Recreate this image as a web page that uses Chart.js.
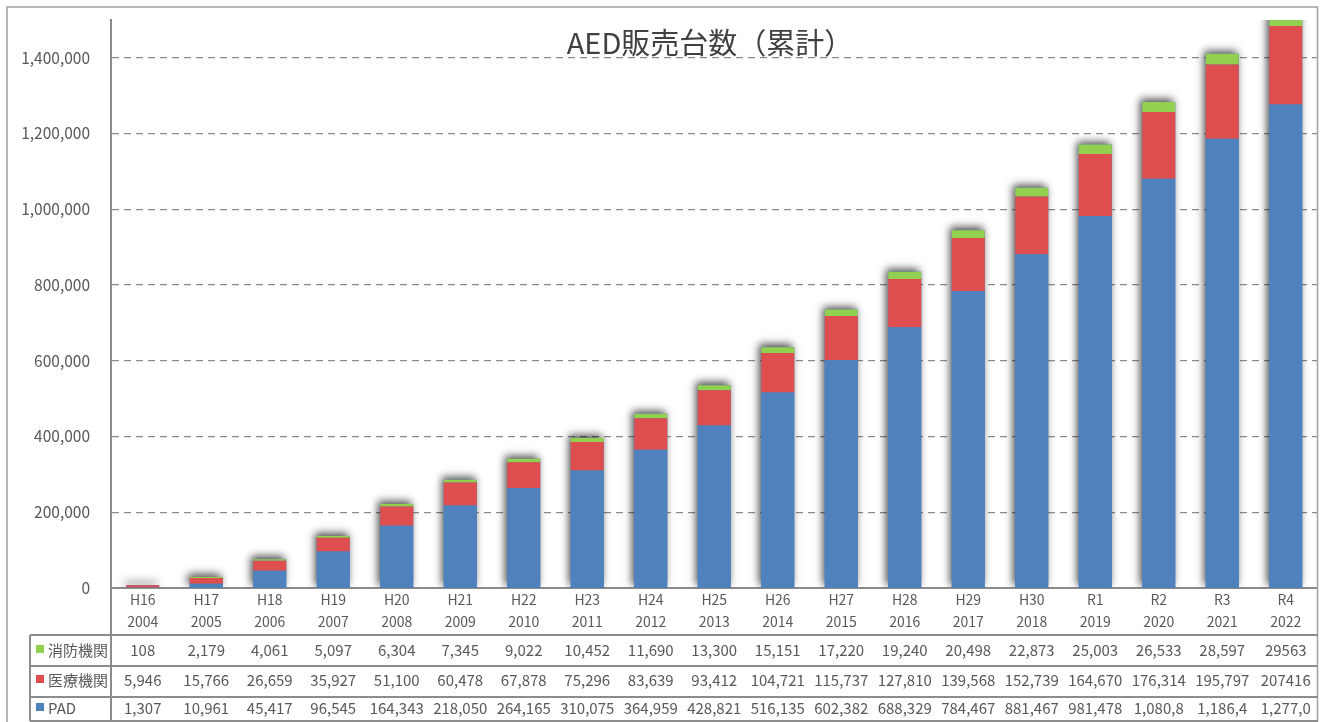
<!DOCTYPE html>
<html lang="ja">
<head>
<meta charset="utf-8">
<title>AED販売台数（累計）</title>
<script src="https://cdn.jsdelivr.net/npm/chart.js@4.4.1/dist/chart.umd.min.js"></script>
<style>
  html, body { margin: 0; padding: 0; background: #fff; }
  #wrap { width: 1323px; height: 722px; }
</style>
</head>
<body>
<div id="wrap"><canvas id="aedChart" width="1323" height="722"></canvas></div>
<script>
// Data
const eraLabels = ['H16', 'H17', 'H18', 'H19', 'H20', 'H21', 'H22', 'H23', 'H24', 'H25', 'H26', 'H27', 'H28', 'H29', 'H30', 'R1', 'R2', 'R3', 'R4'];
const yearLabels = ['2004', '2005', '2006', '2007', '2008', '2009', '2010', '2011', '2012', '2013', '2014', '2015', '2016', '2017', '2018', '2019', '2020', '2021', '2022'];

const padValues = [1307, 10961, 45417, 96545, 164343, 218050, 264165, 310075, 364959, 428821, 516135, 602382, 688329, 784467, 881467, 981478, 1080800, 1186400, 1277000];
const medicalValues = [5946, 15766, 26659, 35927, 51100, 60478, 67878, 75296, 83639, 93412, 104721, 115737, 127810, 139568, 152739, 164670, 176314, 195797, 207416];
const fireValues = [108, 2179, 4061, 5097, 6304, 7345, 9022, 10452, 11690, 13300, 15151, 17220, 19240, 20498, 22873, 25003, 26533, 28597, 29563];

// text shown in the data table (as printed in the source sheet)
const padText = ['1,307', '10,961', '45,417', '96,545', '164,343', '218,050', '264,165', '310,075', '364,959', '428,821', '516,135', '602,382', '688,329', '784,467', '881,467', '981,478', '1,080,8', '1,186,4', '1,277,0'];
const medicalText = ['5,946', '15,766', '26,659', '35,927', '51,100', '60,478', '67,878', '75,296', '83,639', '93,412', '104,721', '115,737', '127,810', '139,568', '152,739', '164,670', '176,314', '195,797', '207416'];
const fireText = ['108', '2,179', '4,061', '5,097', '6,304', '7,345', '9,022', '10,452', '11,690', '13,300', '15,151', '17,220', '19,240', '20,498', '22,873', '25,003', '26,533', '28,597', '29563'];

// value axis
const yTicks = [0, 200000, 400000, 600000, 800000, 1000000, 1200000, 1400000];
const yMax = 1500000;

const BLUE = '#4F81BD';
const RED = '#DF4E4E';
const GREEN = '#92D050';
const TEXT = '#595959';
const LINE = '#8C8C8C';
const FONT = '"Noto Sans CJK JP", "Noto Sans", sans-serif';

// soft shadow behind each stacked column
const shadowPlugin = {
  id: 'barShadow',
  beforeDatasetsDraw(chart) {
    const ctx = chart.ctx;
    const area = chart.chartArea;
    const base = chart.scales.y.getPixelForValue(0);
    const metas = chart.data.datasets.map((d, i) => chart.getDatasetMeta(i));
    ctx.save();
    ctx.beginPath();
    ctx.rect(area.left + 1, area.top, area.right - area.left, area.bottom - area.top);
    ctx.clip();
    ctx.shadowColor = 'rgba(0,0,0,0.7)';
    ctx.shadowBlur = 8;
    ctx.shadowOffsetX = -2;
    ctx.shadowOffsetY = -3;
    ctx.fillStyle = BLUE;
    metas[0].data.forEach((bar, i) => {
      const top = Math.min(...metas.map(m => m.data[i].y));
      const w = bar.width;
      ctx.fillRect(bar.x - w / 2, top, w, base - top);
    });
    ctx.restore();
  }
};

// title, frame and the data table under the axis
const tablePlugin = {
  id: 'dataTable',
  afterDraw(chart) {
    const ctx = chart.ctx;
    const xs = chart.scales.x;
    const area = chart.chartArea;
    const left = 30, right = 1318;

    ctx.save();

    // outer frame
    ctx.strokeStyle = '#A0A0A0';
    ctx.lineWidth = 1.5;
    ctx.beginPath();
    ctx.moveTo(7, 730);
    ctx.lineTo(7, 7);
    ctx.lineTo(1317.5, 7);
    ctx.lineTo(1317.5, 730);
    ctx.stroke();

    // table grid
    ctx.strokeStyle = LINE;
    ctx.lineWidth = 2;
    ctx.beginPath();
    ctx.moveTo(area.left, area.top);
    ctx.lineTo(area.left, 721);
    [635, 666, 697, 721].forEach(y => {
      ctx.moveTo(left, y);
      ctx.lineTo(right, y);
    });
    ctx.moveTo(left, 635);
    ctx.lineTo(left, 721);
    ctx.stroke();

    // rows
    const rows = [
      { label: '消防機関', color: GREEN, texts: fireText, y: 650 },
      { label: '医療機関', color: RED, texts: medicalText, y: 680 },
      { label: 'PAD', color: BLUE, texts: padText, y: 708 }
    ];
    ctx.font = '15px ' + FONT;
    ctx.textBaseline = 'middle';
    rows.forEach(row => {
      ctx.fillStyle = row.color;
      ctx.fillRect(36, row.y - 5, 8, 8);
      ctx.fillStyle = TEXT;
      ctx.textAlign = 'left';
      ctx.fillText(row.label, 48, row.y);
      ctx.textAlign = 'center';
      row.texts.forEach((t, i) => {
        ctx.fillText(t, xs.getPixelForValue(i), row.y);
      });
    });

    // title
    ctx.font = '29px ' + FONT;
    ctx.fillStyle = '#404040';
    ctx.textAlign = 'center';
    ctx.textBaseline = 'alphabetic';
    ctx.fillText('AED販売台数（累計）', 710, 54);

    ctx.restore();
  }
};

const ctx = document.getElementById('aedChart');
new Chart(ctx, {
  type: 'bar',
  data: {
    labels: eraLabels.map((e, i) => [e, yearLabels[i]]),
    datasets: [
      { label: 'PAD', data: padValues, backgroundColor: BLUE },
      { label: '医療機関', data: medicalValues, backgroundColor: RED },
      { label: '消防機関', data: fireValues, backgroundColor: GREEN }
    ]
  },
  options: {
    responsive: false,
    animation: false,
    devicePixelRatio: 1,
    layout: { padding: { top: 20, right: 5.5, left: 0, bottom: 0 } },
    datasets: {
      bar: { barPercentage: 0.52, categoryPercentage: 1, borderWidth: 0 }
    },
    plugins: {
      legend: { display: false },
      title: { display: false },
      tooltip: { enabled: false }
    },
    scales: {
      x: {
        stacked: true,
        grid: { display: false, drawTicks: false },
        border: { display: true, color: LINE, width: 2 },
        ticks: {
          color: TEXT,
          font: { family: FONT, size: 14, lineHeight: 1.6 },
          padding: 0,
          maxRotation: 0,
          autoSkip: false
        },
        afterFit(scale) {
          scale.height = 134;
          scale.paddingLeft = 0;
          scale.paddingRight = 0;
        }
      },
      y: {
        stacked: true,
        min: 0,
        max: yMax,
        grid: {
          color: '#8C8C8C',
          lineWidth: 1.3,
          drawTicks: false
        },
        border: { display: true, color: LINE, width: 2, dash: [7, 5] },
        ticks: {
          autoSkip: false,
          color: TEXT,
          padding: 21,
          font: { family: FONT, size: 15.5 },
          callback: v => v.toLocaleString('en-US')
        },
        afterBuildTicks(scale) {
          scale.ticks = yTicks.map(v => ({ value: v }));
        },
        afterFit(scale) {
          scale.width = 111;
          scale.paddingTop = 0;
          scale.paddingBottom = 0;
        }
      }
    }
  },
  plugins: [shadowPlugin, tablePlugin]
});
</script>
</body>
</html>
